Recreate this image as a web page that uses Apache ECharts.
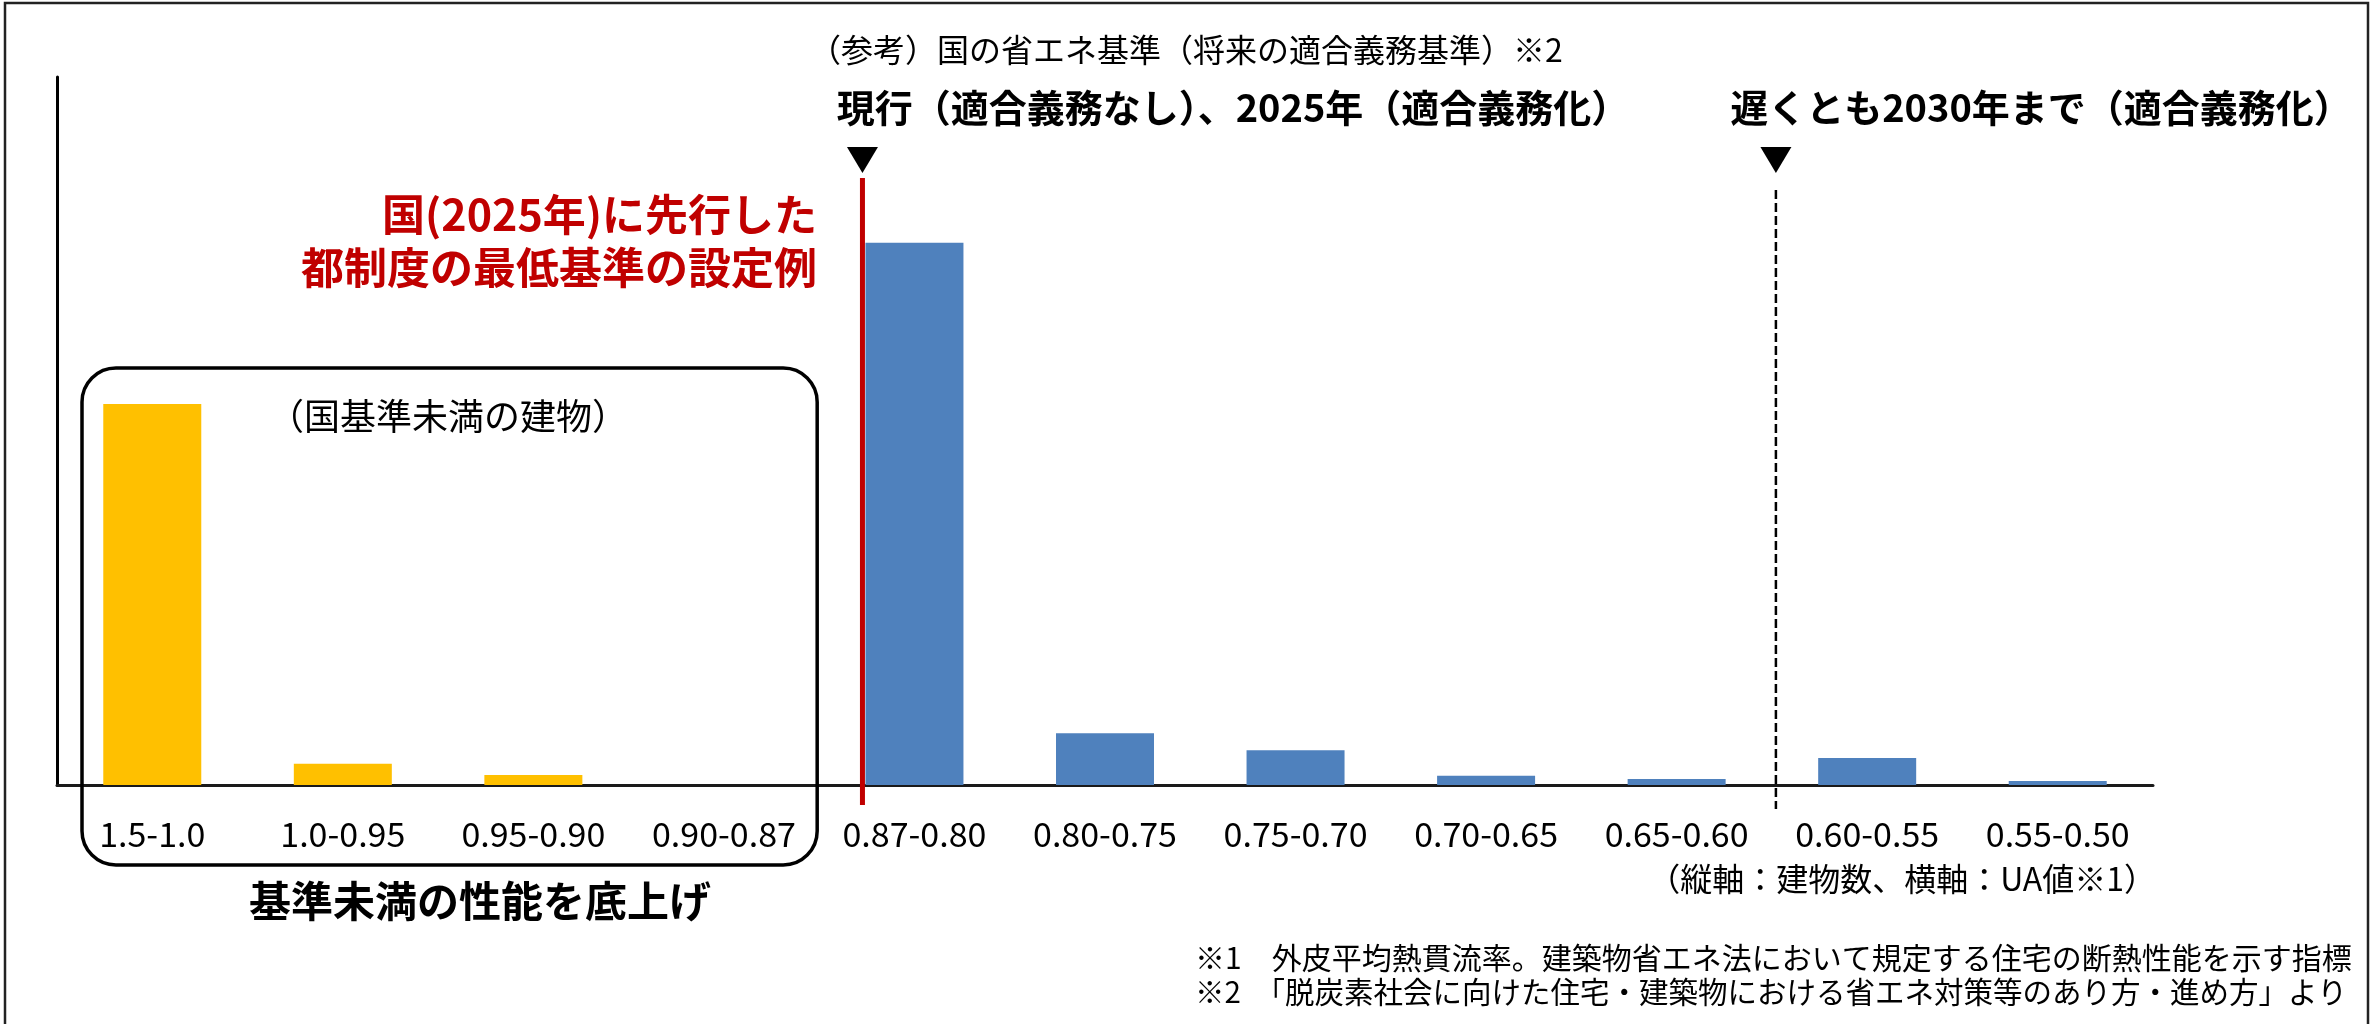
<!DOCTYPE html>
<html><head><meta charset="utf-8">
<script src="https://cdn.jsdelivr.net/npm/echarts@6/dist/echarts.min.js"></script>
<style>html,body{margin:0;padding:0;background:#fff}#c{width:2372px;height:1024px}</style>
</head><body><div id="c"></div>
<script>
// ---- data ----
const categories = ['1.5-1.0','1.0-0.95','0.95-0.90','0.90-0.87','0.87-0.80','0.80-0.75','0.75-0.70','0.70-0.65','0.65-0.60','0.60-0.55','0.55-0.50'];
const buildingCounts = [53.8, 3.0, 1.4, 0, 76.6, 7.3, 4.9, 1.3, 0.85, 3.8, 0.55];
const belowStandard = [true, true, true, true, false, false, false, false, false, false, false];
const currentStdIndex = 4;   // 0.87-0.80 : 現行 / 2025年
const futureStdIndex = 9;    // 0.60-0.55 : 遅くとも2030年

const FONT = "'Noto Sans CJK JP','Noto Sans',sans-serif";
const YELLOW = '#FFC000', BLUE = '#4F81BD', RED = '#C00000';
const BAR_W = 98;

const chart = echarts.init(document.getElementById('c'), null, {renderer: 'canvas'});
chart.setOption({
  animation: false,
  backgroundColor: '#fff',
  grid: {left: 57, right: 219, top: 77, bottom: 239, containLabel: false},
  xAxis: {
    type: 'category', data: categories,
    axisLine: {show: true, lineStyle: {color: '#1a1a1a', width: 3}},
    axisTick: {show: false},
    axisLabel: {fontFamily: FONT, fontSize: 34, color: '#000', margin: 32, lineHeight: 34, interval: 0}
  },
  yAxis: {
    type: 'value', min: 0, max: 100,
    axisLine: {show: true, lineStyle: {color: '#000', width: 3}},
    axisTick: {show: false}, axisLabel: {show: false}, splitLine: {show: false}
  },
  series: [{
    type: 'bar', barWidth: BAR_W,
    data: buildingCounts.map((v, i) => ({value: v, itemStyle: {color: belowStandard[i] ? YELLOW : BLUE}})),
    emphasis: {disabled: true}
  }]
});

const px = i => chart.convertToPixel({xAxisIndex: 0}, i);
const band = px(1) - px(0);
const redX = px(currentStdIndex) - BAR_W / 2 - 3;
const dashX = (px(futureStdIndex - 1) + px(futureStdIndex)) / 2 + 4;
const boxL = px(0) - band / 2 + 25, boxR = px(3) + band / 2 - 2;

function txt(text, x, y, size, opts) {
  opts = opts || {};
  return {type: 'text', z: 100, style: {
    text: text, x: x, y: y, fontFamily: FONT, fontSize: size,
    fontWeight: opts.bold ? 'bold' : 'normal', fill: opts.color || '#000',
    align: opts.align || 'center', verticalAlign: 'middle', lineHeight: opts.lh || size
  }};
}
function tri(x) {
  return {type: 'polygon', z: 100, shape: {points: [[x - 15.5, 147], [x + 15.5, 147], [x, 173]]}, style: {fill: '#000'}};
}

chart.setOption({
  graphic: [
    {type: 'rect', z: 100, shape: {x: 5, y: 3, width: 2363, height: 1060}, style: {fill: 'none', stroke: '#222', lineWidth: 2.5}},
    txt('（参考）国の省エネ基準（将来の適合義務基準）※2', 1186, 50, 32),
    txt('現行（適合義務なし）、2025年（適合義務化）', 1233, 108, 38, {bold: true}),
    txt('遅くとも2030年まで（適合義務化）', 2041, 108, 38, {bold: true}),
    tri(redX), tri(dashX),
    {type: 'line', z: 101, shape: {x1: redX, y1: 178, x2: redX, y2: 805}, style: {stroke: RED, lineWidth: 5}},
    {type: 'line', z: 101, shape: {x1: dashX, y1: 190, x2: dashX, y2: 809}, style: {stroke: '#000', lineWidth: 2.5, lineDash: [9, 4]}},
    txt('国(2025年)に先行した', 817, 215, 43, {bold: true, color: RED, align: 'right'}),
    txt('都制度の最低基準の設定例', 817, 268, 43, {bold: true, color: RED, align: 'right'}),
    {type: 'rect', z: 100, shape: {x: boxL, y: 368, width: boxR - boxL, height: 497, r: 34}, style: {fill: 'none', stroke: '#000', lineWidth: 3.5}},
    txt('（国基準未満の建物）', 448, 416, 36),
    txt('基準未満の性能を底上げ', 480, 901, 42, {bold: true}),
    txt('（縦軸：建物数、横軸：UA値※1）', 2156, 879, 32, {align: 'right'}),
    txt('※1　外皮平均熱貫流率。建築物省エネ法において規定する住宅の断熱性能を示す指標', 1195, 958, 30, {align: 'left'}),
    txt('※2　「脱炭素社会に向けた住宅・建築物における省エネ対策等のあり方・進め方」より', 1195, 992, 29.5, {align: 'left'})
  ]
});
</script>
</body></html>
